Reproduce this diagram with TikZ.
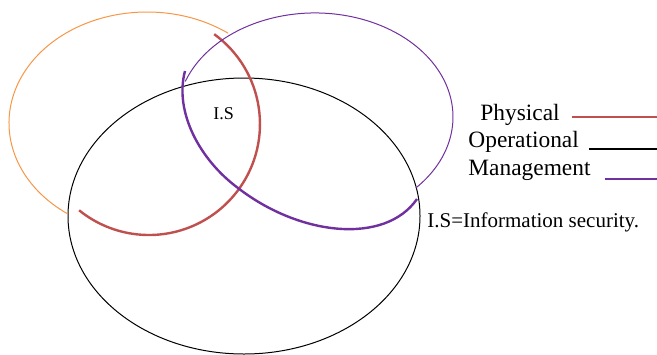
\documentclass[tikz,border=0pt]{standalone}
\usepackage{fontspec}
\setmainfont{Liberation Serif}
\usepackage{xcolor}
\definecolor{physred}{HTML}{C0504D}
\definecolor{physorange}{HTML}{F79646}
\definecolor{mgmtpurple}{HTML}{7030A0}
\tikzset{
  thinline/.style={line width=0.5pt},
  thickline/.style={line width=1.2pt},
  legendtext/.style={anchor=base west, inner sep=0pt, font=\fontsize{11.7}{14}\selectfont},
  legendline/.style={line width=1.1pt}
}

\begin{document}
\begin{tikzpicture}[x=0.5pt, y=-0.5pt]
\useasboundingbox (0,0) rectangle (657,354);

\draw[thinline, black] (244,216) ellipse [x radius=176, y radius=138];
\draw[thinline, physorange] (228.1,33.2) arc [start angle=-54, end angle=-235, x radius=138, y radius=111];
\draw[thickline, physred] (214.2,34.2) arc [start angle=-54, end angle=129, x radius=111, y radius=111];
\draw[thinline, mgmtpurple] (185.3,81.4) arc [start angle=-160, end angle=43, x radius=138, y radius=104];
\draw[thickline, mgmtpurple] (185,71) .. controls (174,112) and (200,160) .. (238,188)
  .. controls (300,236) and (385,245) .. (417,199);

\node[anchor=base west, inner sep=0pt, font=\fontsize{9}{10}\selectfont] (is) at (213,119) {I.S};

\node[legendtext] (phys) at (480,120) {Physical};
\node[legendtext] (oper) at (468,147) {Operational};
\node[legendtext] (mgmt) at (468,175) {Management};
\node[legendtext, font=\fontsize{10.5}{12}\selectfont] (isdef) at (427,227) {I.S=Information security.};

\coordinate (physa) at (572,117);
\coordinate (physb) at (657,117);
\coordinate (opera) at (589,149);
\coordinate (operb) at (657,149);
\coordinate (mgmta) at (605,179);
\coordinate (mgmtb) at (657,179);
\draw[legendline, physred] (physa) -- (physb);
\draw[legendline, black] (opera) -- (operb);
\draw[legendline, mgmtpurple] (mgmta) -- (mgmtb);

\end{tikzpicture}
\end{document}
